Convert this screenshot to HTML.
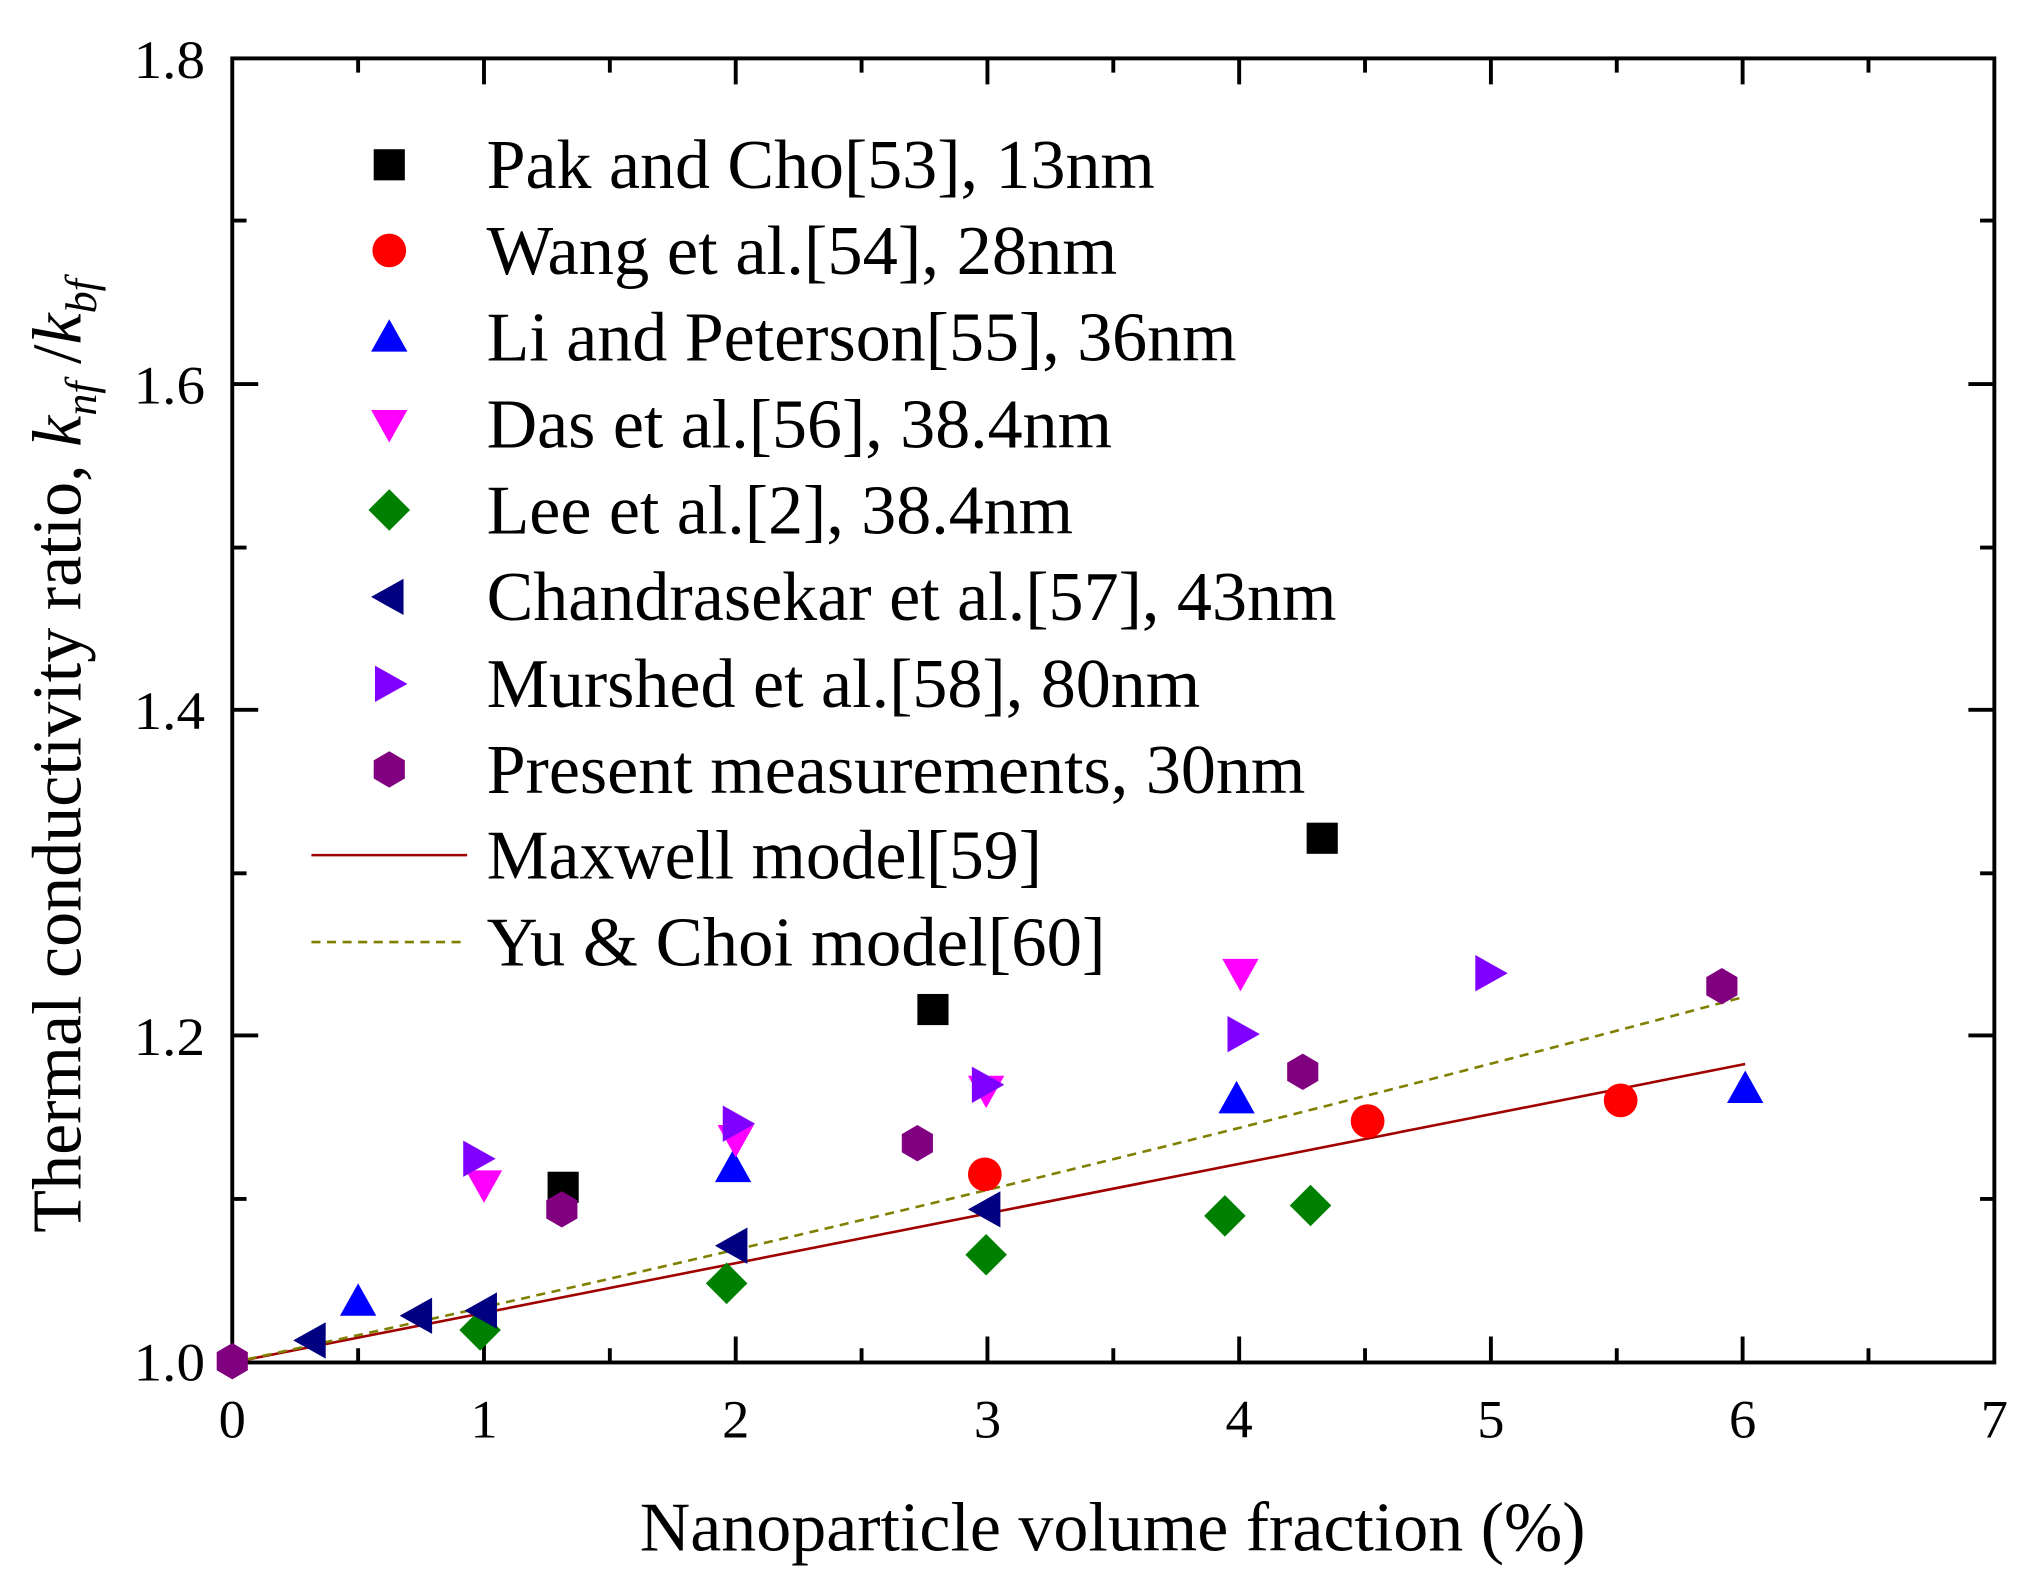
<!DOCTYPE html>
<html><head><meta charset="utf-8"><style>
html,body{margin:0;padding:0;background:#fff;}
svg{display:block;}
text{font-family:"Liberation Serif",serif;fill:#000;}
</style></head><body>
<svg width="2019" height="1571" viewBox="0 0 1556 1210.7" preserveAspectRatio="none" xmlns="http://www.w3.org/2000/svg">
<rect x="0" y="0" width="1556" height="1211" fill="#fff"/>
<rect x="179" y="45" width="1358" height="1005" fill="none" stroke="#000" stroke-width="3"/>
<g stroke="#000" stroke-width="3">
<path d="M373 1050v-20M567 1050v-20M761 1050v-20M955 1050v-20M1149 1050v-20M1343 1050v-20
M276 1050v-11M470 1050v-11M664 1050v-11M858 1050v-11M1052 1050v-11M1246 1050v-11M1440 1050v-11
M373 45v20M567 45v20M761 45v20M955 45v20M1149 45v20M1343 45v20
M276 45v11M470 45v11M664 45v11M858 45v11M1052 45v11M1246 45v11M1440 45v11"/>
<path d="M179 798h20M179 547h20M179 296h20
M179 924h11M179 673h11M179 422h11M179 170h11
M1537 798h-20M1537 547h-20M1537 296h-20
M1537 924h-11M1537 673h-11M1537 422h-11M1537 170h-11"/>
</g>
<g font-size="42" text-anchor="middle">
<text x="179" y="1108">0</text><text x="373" y="1108">1</text><text x="567" y="1108">2</text><text x="761" y="1108">3</text><text x="955" y="1108">4</text><text x="1149" y="1108">5</text><text x="1343" y="1108">6</text><text x="1537" y="1108">7</text>
</g>
<g font-size="42" text-anchor="end">
<text x="158" y="1064" textLength="55" lengthAdjust="spacingAndGlyphs">1.0</text>
<text x="158" y="813" textLength="55" lengthAdjust="spacingAndGlyphs">1.2</text>
<text x="158" y="562" textLength="55" lengthAdjust="spacingAndGlyphs">1.4</text>
<text x="158" y="311" textLength="55" lengthAdjust="spacingAndGlyphs">1.6</text>
<text x="158" y="60" textLength="55" lengthAdjust="spacingAndGlyphs">1.8</text>
</g>
<text x="493" y="1195" font-size="54" textLength="729" lengthAdjust="spacingAndGlyphs">Nanoparticle volume fraction (%)</text>
<text transform="translate(62,950) rotate(-90)" font-size="54">Thermal conductivity ratio, <tspan font-style="italic">k</tspan><tspan font-style="italic" font-size="34" dy="12">nf</tspan><tspan dy="-12"> /</tspan><tspan font-style="italic">k</tspan><tspan font-style="italic" font-size="34" dy="12">bf</tspan></text>
<path d="M179 1050L1345 820" stroke="#a00000" stroke-width="2" fill="none"/>
<path d="M179 1050Q760 925 1345 768" stroke="#808000" stroke-width="2" stroke-dasharray="7,5" fill="none"/>
<defs>
<rect id="sq" x="-12" y="-12" width="24" height="24" fill="#000"/>
<circle id="ci" r="13" fill="#ff0000"/>
<path id="tu" d="M0 -14L14 11H-14Z" fill="#0000ff"/>
<path id="td" d="M0 14L14 -11H-14Z" fill="#ff00ff"/>
<path id="di" d="M0 -16L16 0L0 16L-16 0Z" fill="#008000"/>
<path id="tl" d="M-14 0L11 -14V14Z" fill="#000080"/>
<path id="tr" d="M14 0L-11 -14V14Z" fill="#8000ff"/>
<path id="hx" d="M0 -14L12 -7V7L0 14L-12 7V-7Z" fill="#800080"/>
</defs>
<use href="#sq" x="434" y="915"/><use href="#sq" x="719" y="778"/><use href="#sq" x="1019" y="646"/>
<use href="#ci" x="759" y="905"/><use href="#ci" x="1054" y="864"/><use href="#ci" x="1249" y="848"/>
<use href="#tu" x="276" y="1003"/><use href="#tu" x="565" y="900"/><use href="#tu" x="953" y="847"/><use href="#tu" x="1345" y="839"/>
<use href="#td" x="373" y="913"/><use href="#td" x="567" y="878"/><use href="#td" x="760" y="840"/><use href="#td" x="956" y="750"/>
<use href="#di" x="370" y="1025"/><use href="#di" x="560" y="989"/><use href="#di" x="760" y="967"/><use href="#di" x="944" y="937"/><use href="#di" x="1010" y="929"/>
<use href="#tl" x="240" y="1033"/><use href="#tl" x="322" y="1014"/><use href="#tl" x="372" y="1010"/><use href="#tl" x="565" y="960"/><use href="#tl" x="760" y="932"/>
<use href="#tr" x="368" y="893"/><use href="#tr" x="568" y="866"/><use href="#tr" x="760" y="836"/><use href="#tr" x="957" y="797"/><use href="#tr" x="1148" y="750"/>
<use href="#hx" x="179" y="1049"/><use href="#hx" x="433" y="932"/><use href="#hx" x="707" y="881"/><use href="#hx" x="1004" y="826"/><use href="#hx" x="1327" y="760"/>
<use href="#sq" x="300" y="127"/><use href="#ci" x="300" y="193"/><use href="#tu" x="300" y="260"/><use href="#td" x="300" y="327"/>
<use href="#di" x="300" y="393"/><use href="#tl" x="300" y="460"/><use href="#tr" x="300" y="527"/><use href="#hx" x="300" y="593"/>
<path d="M240 659H360" stroke="#a00000" stroke-width="2"/>
<path d="M240 726H360" stroke="#808000" stroke-width="2" stroke-dasharray="7,5"/>
<g font-size="54" lengthAdjust="spacingAndGlyphs">
<text x="375" y="145" textLength="515" lengthAdjust="spacingAndGlyphs">Pak and Cho[53], 13nm</text>
<text x="375" y="211" textLength="486" lengthAdjust="spacingAndGlyphs">Wang et al.[54], 28nm</text>
<text x="375" y="278" textLength="578" lengthAdjust="spacingAndGlyphs">Li and Peterson[55], 36nm</text>
<text x="375" y="345" textLength="482" lengthAdjust="spacingAndGlyphs">Das et al.[56], 38.4nm</text>
<text x="375" y="411" textLength="452" lengthAdjust="spacingAndGlyphs">Lee et al.[2], 38.4nm</text>
<text x="375" y="478" textLength="655" lengthAdjust="spacingAndGlyphs">Chandrasekar et al.[57], 43nm</text>
<text x="375" y="545" textLength="550" lengthAdjust="spacingAndGlyphs">Murshed et al.[58], 80nm</text>
<text x="375" y="611" textLength="631" lengthAdjust="spacingAndGlyphs">Present measurements, 30nm</text>
<text x="375" y="677" textLength="428" lengthAdjust="spacingAndGlyphs">Maxwell model[59]</text>
<text x="375" y="744" textLength="477" lengthAdjust="spacingAndGlyphs">Yu &amp; Choi model[60]</text>
</g>
</svg>
</body></html>
